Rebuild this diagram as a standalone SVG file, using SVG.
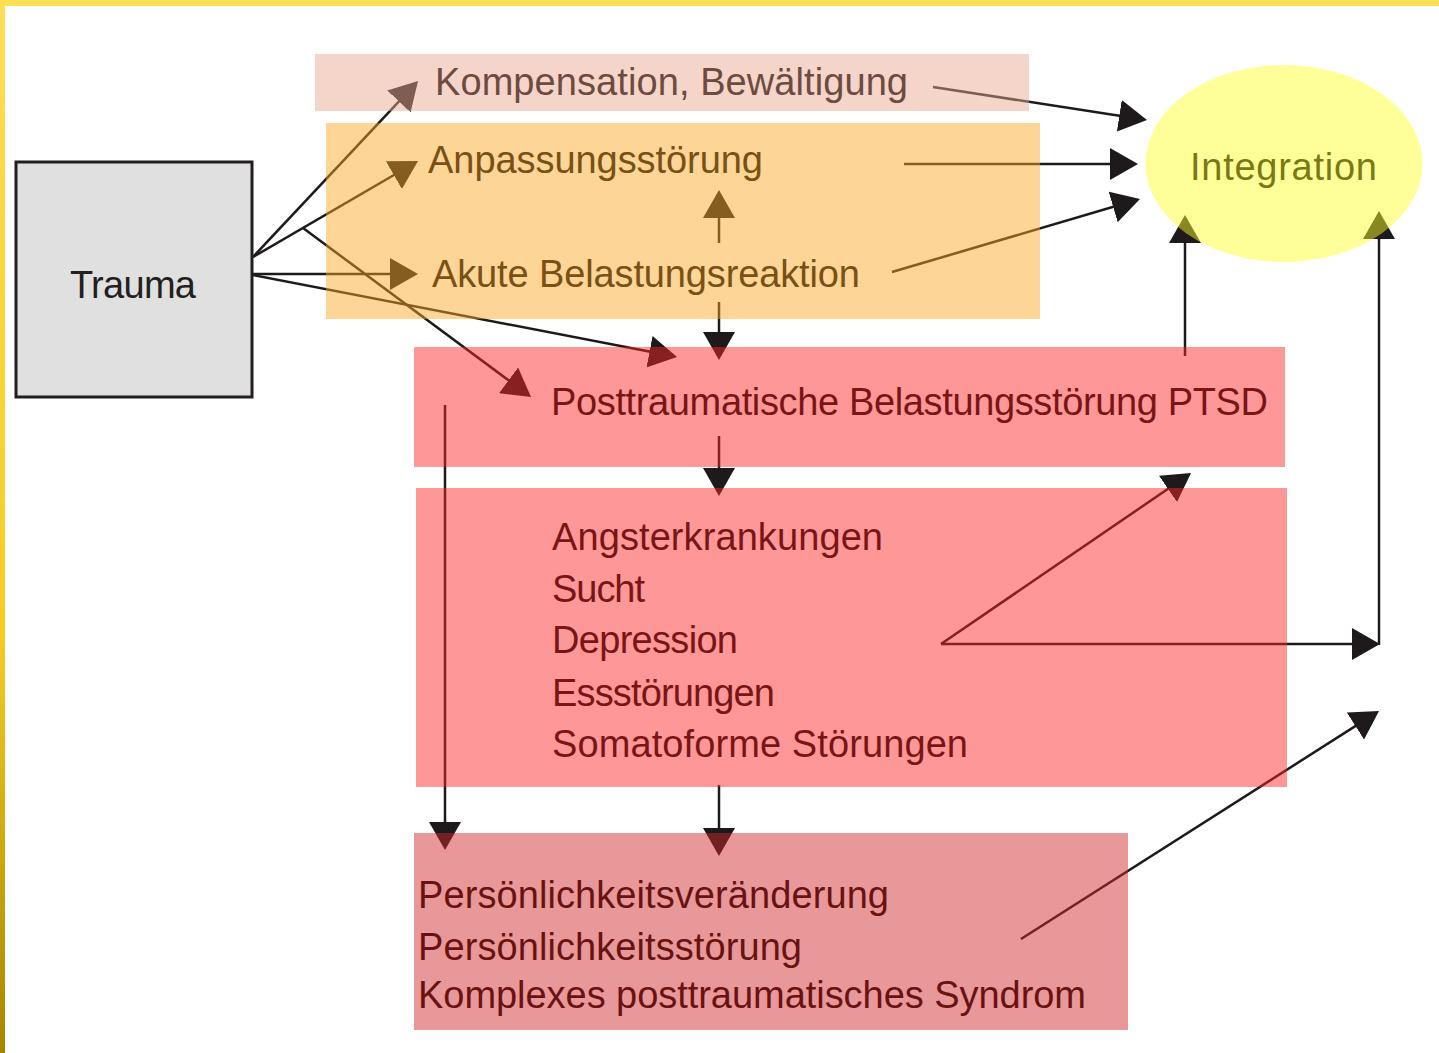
<svg xmlns="http://www.w3.org/2000/svg" width="1439" height="1053" viewBox="0 0 1439 1053">
<defs>
<linearGradient id="leftEdge" x1="0" y1="0" x2="0" y2="1">
<stop offset="0" stop-color="#FFDD55"/>
<stop offset="0.6" stop-color="#F8CC22"/>
<stop offset="1" stop-color="#A68600"/>
</linearGradient>
<marker id="ah" viewBox="0 0 28 32" markerWidth="28" markerHeight="32" markerUnits="userSpaceOnUse" refX="18" refY="16" orient="auto">
<path d="M0,0 L28,16 L0,32 z" fill="#1E1A1B"/>
</marker>
<style>
.ln{stroke:#1E1A1B;stroke-width:2.5;fill:none;marker-end:url(#ah)}
.pl{stroke:#1E1A1B;stroke-width:2.5;fill:none}
.ov{fill-opacity:0.48}
.t{font-family:"Liberation Sans",Arial,sans-serif;font-size:38px}
</style>
</defs>
<rect x="0" y="0" width="1439" height="1053" fill="#FFFFFF"/>
<g id="frame">
<rect x="0" y="0" width="1439" height="6" fill="#FFDD55"/>
<rect x="0" y="0" width="5" height="1053" fill="url(#leftEdge)"/>
</g>
<g id="connectors">
<line class="ln" x1="253" y1="257" x2="411.2" y2="88.3"/>
<line class="ln" x1="253" y1="257" x2="409.4" y2="166"/>
<line class="ln" x1="303" y1="228" x2="523" y2="391"/>
<line class="ln" x1="253" y1="274" x2="408" y2="274"/>
<line class="ln" x1="253" y1="275" x2="667.2" y2="355.1"/>
<line class="ln" x1="719" y1="243" x2="719" y2="200"/>
<line class="ln" x1="719" y1="302" x2="719" y2="350"/>
<line class="ln" x1="719" y1="436" x2="719" y2="486"/>
<line class="ln" x1="445" y1="405" x2="445" y2="840"/>
<line class="ln" x1="719" y1="785" x2="719" y2="846"/>
<line class="ln" x1="1021" y1="939" x2="1370.6" y2="716.4"/>
<line class="ln" x1="941" y1="644" x2="1370" y2="644"/>
<line class="ln" x1="941" y1="644" x2="1182.8" y2="478.7"/>
<line class="ln" x1="1379" y1="645" x2="1379" y2="221"/>
<line class="ln" x1="1185" y1="356" x2="1185" y2="225"/>
<line class="ln" x1="933" y1="87" x2="1137.1" y2="118.5"/>
<line class="ln" x1="904" y1="164" x2="1128" y2="164"/>
<line class="ln" x1="892" y1="272" x2="1130.4" y2="201.8"/>
</g>
<g id="trauma">
<rect x="16" y="162" width="236" height="235" fill="#E0E0E0" stroke="#231F20" stroke-width="3"/>
<text class="t" x="70" y="298" font-size="37" fill="#231F20" textLength="126">Trauma</text>
</g>
<g id="kompensation">
<rect class="ov" x="315" y="54" width="714" height="57" fill="#EAA790"/>
<text class="t" x="435" y="95" fill="#6E4B40" textLength="473">Kompensation, Bewältigung</text>
</g>
<g id="anpassung">
<rect class="ov" x="326" y="123" width="714" height="196" fill="#F9A726"/>
<text class="t" x="428" y="173" fill="#7A5014" textLength="335">Anpassungsstörung</text>
<text class="t" x="432" y="287" fill="#7A5014" textLength="428">Akute Belastungsreaktion</text>
</g>
<g id="ptsd">
<rect class="ov" x="414" y="347" width="871" height="120" fill="#FD2626"/>
<text class="t" x="551" y="415" fill="#7A1515" textLength="717">Posttraumatische Belastungsstörung PTSD</text>
</g>
<g id="komorbid">
<rect class="ov" x="416" y="488" width="871" height="299" fill="#FD2626"/>
<text class="t" x="552" y="550" fill="#7A1515" textLength="331">Angsterkrankungen</text>
<text class="t" x="552" y="602" fill="#7A1515" textLength="93">Sucht</text>
<text class="t" x="552" y="653" fill="#7A1515" textLength="186">Depression</text>
<text class="t" x="552" y="706" fill="#7A1515" textLength="223">Essstörungen</text>
<text class="t" x="552" y="757" fill="#7A1515" textLength="416">Somatoforme Störungen</text>
</g>
<g id="persoenlichkeit">
<rect class="ov" x="414" y="833" width="714" height="197" fill="#CF2828"/>
<text class="t" x="418" y="908" fill="#6A1212" textLength="471">Persönlichkeitsveränderung</text>
<text class="t" x="418" y="960" fill="#6A1212" textLength="384">Persönlichkeitsstörung</text>
<text class="t" x="418" y="1008" fill="#6A1212" textLength="668">Komplexes posttraumatisches Syndrom</text>
</g>
<g id="integration">
<ellipse class="ov" cx="1284" cy="163.5" rx="138.5" ry="98.5" fill="#FFFF2A"/>
<text class="t" x="1190" y="180" fill="#7A7A14" textLength="187">Integration</text>
</g>
</svg>
